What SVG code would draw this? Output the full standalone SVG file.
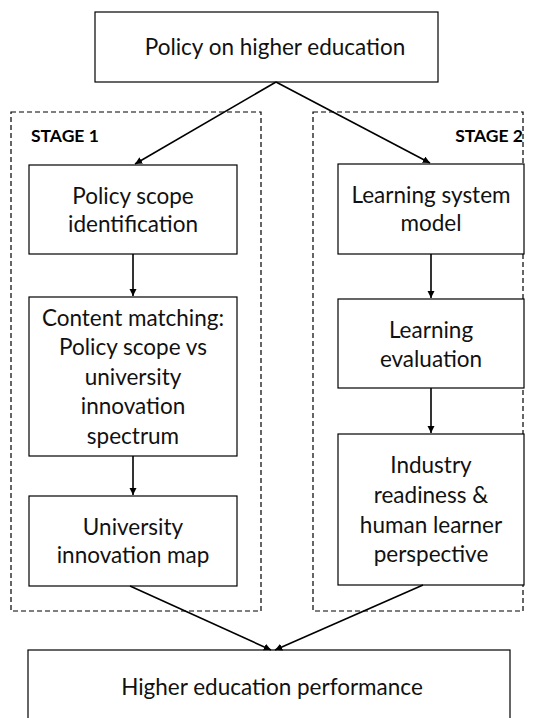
<svg xmlns="http://www.w3.org/2000/svg" width="533" height="718" viewBox="0 0 533 718">
  <style>
    .box { fill: #ffffff; stroke: #000000; stroke-width: 1.2; }
    .stage { fill: none; stroke: #000000; stroke-width: 1.2; stroke-dasharray: 5 3; }
    .lbl { font-family: Lato, "Liberation Sans", sans-serif; font-size: 22.5px; fill: #111111; text-anchor: middle; }
    .stage-lbl { font-family: Lato, "Liberation Sans", sans-serif; font-size: 17.5px; font-weight: bold; fill: #000000; }
    .conn { fill: none; stroke: #000000; stroke-width: 1.6; marker-end: url(#arrow); }
  </style>
  <defs>
    <marker id="arrow" viewBox="0 0 10 10" refX="10" refY="5" markerWidth="4.5" markerHeight="4.5" orient="auto" markerUnits="strokeWidth">
      <path d="M0,0 L10,5 L0,10 z" fill="#000000"/>
    </marker>
  </defs>
  <rect width="533" height="718" fill="#ffffff"/>

  <!-- stage frames -->
  <g id="stage1">
    <rect class="stage" x="11" y="112" width="250" height="499"/>
    <text class="stage-lbl" x="31" y="142">STAGE 1</text>
  </g>
  <g id="stage2">
    <rect class="stage" x="313" y="112" width="210" height="499"/>
    <text class="stage-lbl" x="523" y="142" style="text-anchor:end">STAGE 2</text>
  </g>

  <!-- top node -->
  <g id="policy">
    <rect class="box" x="95" y="12" width="343" height="70"/>
    <text class="lbl" x="275" y="55">Policy on higher education</text>
  </g>

  <!-- stage 1 nodes -->
  <g id="scope">
    <rect class="box" x="29" y="165" width="208" height="89"/>
    <text class="lbl" x="133" y="204">Policy scope</text>
    <text class="lbl" x="133" y="232">identification</text>
  </g>
  <g id="matching">
    <rect class="box" x="29" y="297" width="208" height="159"/>
    <text class="lbl" x="133" y="326">Content matching:</text>
    <text class="lbl" x="133" y="355">Policy scope vs</text>
    <text class="lbl" x="133" y="385">university</text>
    <text class="lbl" x="133" y="414">innovation</text>
    <text class="lbl" x="133" y="444">spectrum</text>
  </g>
  <g id="map">
    <rect class="box" x="29" y="496" width="208" height="90"/>
    <text class="lbl" x="133" y="535">University</text>
    <text class="lbl" x="133" y="563">innovation map</text>
  </g>

  <!-- stage 2 nodes -->
  <g id="system">
    <rect class="box" x="338" y="164" width="186" height="90"/>
    <text class="lbl" x="431" y="203">Learning system</text>
    <text class="lbl" x="431" y="231">model</text>
  </g>
  <g id="evaluation">
    <rect class="box" x="338" y="299" width="186" height="89"/>
    <text class="lbl" x="431" y="338">Learning</text>
    <text class="lbl" x="431" y="367">evaluation</text>
  </g>
  <g id="readiness">
    <rect class="box" x="338" y="434" width="186" height="151"/>
    <text class="lbl" x="431" y="473">Industry</text>
    <text class="lbl" x="431" y="503">readiness &amp;</text>
    <text class="lbl" x="431" y="533">human learner</text>
    <text class="lbl" x="431" y="562">perspective</text>
  </g>

  <!-- bottom node -->
  <g id="performance">
    <rect class="box" x="28" y="650" width="482" height="80"/>
    <text class="lbl" x="272" y="695">Higher education performance</text>
  </g>

  <!-- connectors -->
  <g id="connectors">
    <line class="conn" x1="276" y1="82" x2="135" y2="164"/>
    <line class="conn" x1="276" y1="82" x2="430" y2="163"/>
    <line class="conn" x1="133" y1="254" x2="133" y2="296"/>
    <line class="conn" x1="133" y1="456" x2="133" y2="495"/>
    <line class="conn" x1="431" y1="254" x2="431" y2="298"/>
    <line class="conn" x1="431" y1="388" x2="431" y2="433"/>
    <line class="conn" x1="130" y1="586" x2="271" y2="650"/>
    <line class="conn" x1="423" y1="585" x2="275" y2="650"/>
  </g>
</svg>
